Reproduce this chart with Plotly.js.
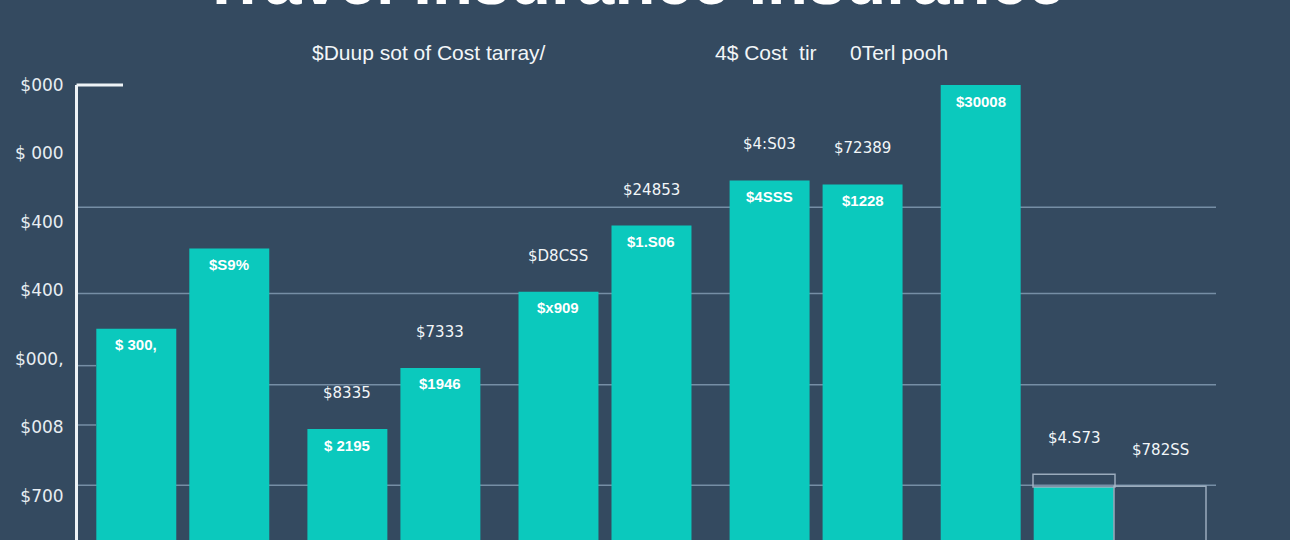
<!DOCTYPE html>
<html>
<head>
<meta charset="utf-8">
<script src="https://cdn.plot.ly/plotly-3.0.1.min.js"></script>
<style>
  html, body { margin: 0; padding: 0; background: #344a60; }
  #chart { width: 1290px; height: 540px; }
</style>
</head>
<body>
<div id="chart"></div>
<script>
// ---------- data ----------
const titleText = "Travel Insurance Insurance";
const legendLabels = ["$Duup sot of Cost tarray/", "4$ Cost  tir", "0Terl pooh"];

const groups = ["Plan A", "Plan B", "Plan C", "Plan D", "Plan E"];
const seriesAValues = [466, 246, 547, 791, 1000];
const seriesBValues = [642, 380, 692, 782, 119];
const seriesAInner = ["$ 300,", "$ 2195", "$x909", "$4SSS", "$30008"];
const seriesBInner = ["$S9%", "$1946", "$1.S06", "$1228", ""];
const seriesAOuter = ["", "$8335", "$D8CSS", "$4:S03", ""];
const seriesBOuter = ["", "$7333", "$24853", "$72389", ""];

const extraCats = ["Plan F", "Plan G"];
const extraValues = [147, 121];
const extraOuter = ["$4.S73", "$782SS"];

const tickValues = [100, 250, 400, 550, 700, 850, 1000];
const tickLabels = ["$700", "$008", "$000,", "$400", "$400", "$ 000", "$000"];
const gridLevels = [732, 543, 343, 123];
const shortGridLevels = [385, 255];

// ---------- layout constants ----------
const W = 1290, H = 540;
const M = { l: 78, r: 0, t: 85, b: 0 };
const plotW = W - M.l - M.r;
const xRange = [-0.4964, 5.245];
const pxPerCat = plotW / (xRange[1] - xRange[0]);
const barGap = 0.119, barGroupGap = 0.14;
const slotShift = pxPerCat * (1 - barGap) / 4;
const x2Px = 86;
const x2Start = -(1074 - M.l) / x2Px;
const x2Range = [x2Start, x2Start + plotW / x2Px];

const teal = "#0bc9bd";
const bg = "#344a60";
const gridColor = "rgba(140,165,188,0.75)";
const txt = "#f2f6f8";
const fontFam = "'Liberation Sans', Arial, sans-serif";
const fontAlt = "'DejaVu Sans', Verdana, sans-serif";

const lastB = seriesBValues[seriesBValues.length - 1];
const traces = [
  { type: "bar", x: groups, y: seriesAValues, marker: { color: teal }, hoverinfo: "skip", name: "A" },
  { type: "bar", x: groups, y: seriesBValues, marker: { color: teal }, hoverinfo: "skip", name: "B" },
  {
    type: "bar", x: extraCats, xaxis: "x2",
    y: extraValues.map((v, i) => i === 0 ? v - lastB : v),
    base: extraValues.map((v, i) => i === 0 ? lastB : 0),
    width: [82 / x2Px, 92 / x2Px],
    marker: { color: "rgba(0,0,0,0)", line: { color: "rgba(165,182,198,0.9)", width: 1.5 } },
    hoverinfo: "skip", name: "C"
  }
];

const annotations = [];
// title (cut off at top, as in the reference)
annotations.push({
  text: "<b>" + titleText + "</b>", xref: "paper", yref: "paper", x: (633 - M.l) / plotW, y: 1,
  xanchor: "center", yanchor: "bottom", yshift: 65, showarrow: false,
  font: { family: fontFam, size: 67, color: "#ffffff" }
});
// legend-like labels
const legLeft = [310, 713, 848];
legendLabels.forEach((t, i) => annotations.push({
  text: t, xref: "paper", yref: "paper", x: (legLeft[i] - M.l) / plotW, y: (H - 52) / (H - M.t),
  xanchor: "left", yanchor: "middle", showarrow: false,
  font: { family: fontFam, size: 21, color: txt }
}));
function addLabels(cats, vals, inner, outer, shift, xref) {
  cats.forEach((c, i) => {
    if (inner && inner[i]) annotations.push({
      text: "<b>" + inner[i] + "</b>", x: c, y: vals[i], xref: xref, yref: "y", xshift: shift, yshift: -16,
      xanchor: "center", yanchor: "middle", showarrow: false,
      font: { family: fontFam, size: 15, color: "#ffffff" }
    });
    if (outer && outer[i]) annotations.push({
      text: outer[i], x: c, y: vals[i], xref: xref, yref: "y", xshift: shift, yshift: 36,
      xanchor: "center", yanchor: "middle", showarrow: false,
      font: { family: fontAlt, size: 15, color: txt }
    });
  });
}
addLabels(groups, seriesAValues, seriesAInner, seriesAOuter, -slotShift, "x");
addLabels(groups, seriesBValues, seriesBInner, seriesBOuter, slotShift, "x");
addLabels(extraCats, extraValues, null, extraOuter, 0, "x2");

const gridRight = (1216 - M.l) / plotW;
const shapes = [];
gridLevels.forEach((g, i) => shapes.push({
  type: "line", layer: "below", xref: "paper", yref: "y",
  x0: i === 2 ? (200 - M.l) / plotW : 0, x1: gridRight, y0: g, y1: g,
  line: { color: gridColor, width: 1.5 }
}));
shortGridLevels.forEach(g => shapes.push({
  type: "line", layer: "below", xref: "paper", yref: "y",
  x0: 0, x1: (96 - M.l) / plotW, y0: g, y1: g,
  line: { color: gridColor, width: 1.5 }
}));
// axis top cap
shapes.push({
  type: "line", layer: "above", xref: "paper", yref: "paper",
  x0: -0.0012, x1: (123 - M.l) / plotW, y0: 1, y1: 1,
  line: { color: "#eef3f6", width: 3 }
});

const layout = {
  width: W, height: H, margin: M,
  paper_bgcolor: bg, plot_bgcolor: bg,
  showlegend: false,
  barmode: "group", bargap: barGap, bargroupgap: barGroupGap,
  xaxis: { type: "category", range: xRange, showticklabels: false, showgrid: false, zeroline: false, showline: false, fixedrange: true },
  xaxis2: { type: "category", overlaying: "x", range: x2Range, showticklabels: false, showgrid: false, zeroline: false, showline: false, visible: false },
  yaxis: {
    range: [3, 1000], tickmode: "array", tickvals: tickValues, ticktext: tickLabels,
    showgrid: false, zeroline: false, showline: true, linecolor: "#eef3f6", linewidth: 3,
    ticks: "", ticklabelstandoff: 8,
    tickfont: { family: fontAlt, size: 17, color: "#e8eef2" }
  },
  annotations: annotations,
  shapes: shapes
};

Plotly.newPlot("chart", traces, layout, { displayModeBar: false, staticPlot: true });
</script>
</body>
</html>
